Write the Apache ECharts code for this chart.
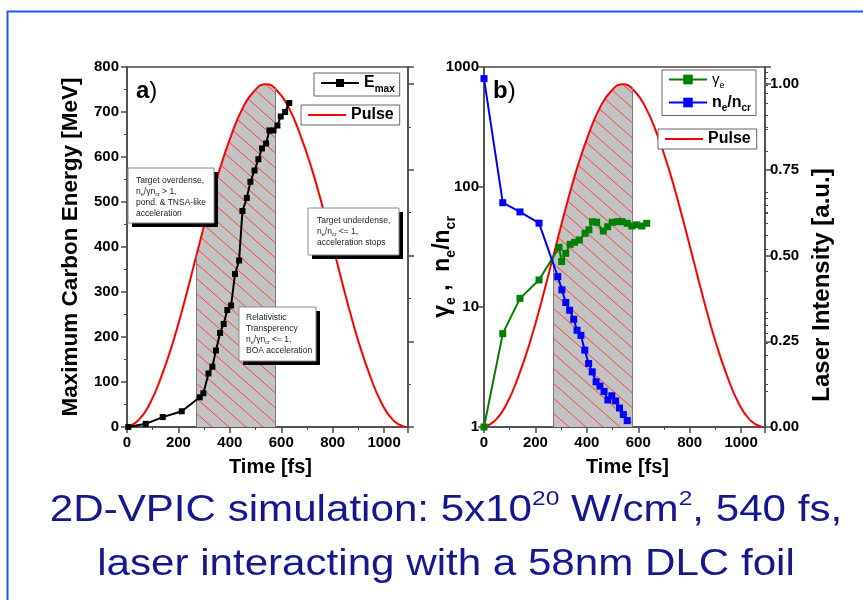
<!DOCTYPE html>
<html>
<head>
<meta charset="utf-8">
<script src="https://cdn.jsdelivr.net/npm/echarts@6/dist/echarts.min.js"></script>
<style>
  html, body { margin: 0; padding: 0; background: #fff; }
  #chart { width: 863px; height: 600px; }
</style>
</head>
<body>
<div id="chart"></div>
<script>
const FONT = '"Liberation Sans", Arial, sans-serif';

// a) maximum carbon energy [MeV] vs time [fs]
const emaxTime = [5, 73, 139, 213, 283, 297, 317, 332, 346, 362, 376, 390, 405, 420, 436,
  449, 466, 480, 496, 511, 525, 541, 554, 570, 585, 598, 615, 631];
const emaxValue = [0, 7, 22, 35, 66, 75, 119, 134, 170, 209, 229, 260, 270, 340, 370,
  480, 509, 545, 570, 595, 619, 630, 659, 659, 670, 690, 700, 720];

// b) gamma_e and n_e/n_cr vs time [fs]
const gammaTime = [0, 73, 140, 214, 292, 302, 318, 335, 352, 371, 393, 408, 422, 438,
  464, 481, 499, 519, 537, 557, 575, 594, 614, 633];
const gammaValue = [1, 6.0, 11.8, 16.8, 31.4, 23.9, 28, 33.3, 34.6, 36.2, 41.1, 44, 51.4, 50.8,
  43, 46.7, 50.8, 51.4, 51.4, 49.8, 47.3, 48.4, 47.3, 49.8];
const densityTime = [0, 73, 140, 214, 287, 303, 318, 333, 349, 362, 377, 392, 407, 421,
  436, 451, 467, 482, 497, 512, 527, 542, 557];
const densityValue = [800, 74, 62, 50, 17.9, 13.9, 10.9, 9.4, 7.9, 6.4, 5.8, 4.37, 3.38, 2.88,
  2.38, 2.19, 1.98, 1.68, 1.82, 1.65, 1.44, 1.27, 1.13];

// laser pulse, same curve in both panels (laser intensity, a.u.)
const pulseTime = [0, 45, 90, 135, 180, 225, 270, 315, 360, 405, 450, 495, 540,
  585, 630, 675, 720, 765, 810, 855, 900, 945, 990, 1035, 1080];
const pulseIntensity = [0, 0.02, 0.07, 0.15, 0.25, 0.37, 0.5, 0.63, 0.75, 0.85, 0.93, 0.98, 1.0,
  0.98, 0.93, 0.85, 0.75, 0.63, 0.5, 0.37, 0.25, 0.15, 0.07, 0.02, 0];

// hatched window under the pulse
const windowTime = [270, 315, 360, 405, 450, 495, 540, 578];
const windowIntensity = [0.5, 0.63, 0.75, 0.85, 0.93, 0.98, 1.0, 0.99];

const timeTicks = [0, 200, 400, 600, 800, 1000];
const logMinorTicks = [2, 3, 4, 5, 6, 7, 8, 9, 20, 30, 40, 50, 60, 70, 80, 90,
  200, 300, 400, 500, 600, 700, 800, 900];

const pair = (xs, ys) => xs.map((x, i) => [x, ys[i]]);

function hatchPattern() {
  const c = document.createElement('canvas');
  c.width = 17;
  c.height = 15;
  const ctx = c.getContext('2d');
  ctx.fillStyle = '#c3c3c3';
  ctx.fillRect(0, 0, 17, 15);
  ctx.strokeStyle = '#ff3b3b';
  ctx.lineWidth = 1;
  ctx.beginPath();
  ctx.moveTo(-17, -15);
  ctx.lineTo(34, 30);
  ctx.stroke();
  return c;
}
const pattern = hatchPattern();

const AXIS_COLOR = '#4a4a4a';
const axisLine = { show: true, lineStyle: { color: AXIS_COLOR, width: 1.5 } };
const majorTick = { show: true, length: 6, lineStyle: { color: AXIS_COLOR, width: 1.5 } };
const minorTick = { show: true, splitNumber: 2, length: 3, lineStyle: { color: AXIS_COLOR, width: 1 } };
const tickFont = { color: '#000', fontFamily: FONT, fontWeight: 'bold', fontSize: 15 };
const nameFont = { color: '#000', fontFamily: FONT, fontWeight: 'bold' };

function timeAxis(gridIndex) {
  return {
    type: 'value', gridIndex, min: 0, max: 1093, interval: 200,
    axisLine, axisTick: majorTick, minorTick, splitLine: { show: false },
    axisLabel: { ...tickFont, margin: 8, formatter: v => timeTicks.includes(v) ? String(v) : '' },
    name: 'Time [fs]', nameLocation: 'middle', nameGap: 30, nameMoveOverlap: false,
    nameTextStyle: { ...nameFont, fontSize: 20, padding: [0, 0, 0, 6] }
  };
}

function intensityAxis(gridIndex, withLabels) {
  const ax = {
    type: 'value', gridIndex, position: 'right', min: 0, max: 1.05, interval: 0.25,
    axisLine, axisTick: majorTick, minorTick, splitLine: { show: false },
    axisLabel: {
      show: withLabels, ...tickFont, margin: 5,
      formatter: v => v > 1.001 ? '' : v.toFixed(2)
    }
  };
  if (withLabels) {
    ax.name = 'Laser Intensity [a.u.]';
    ax.nameLocation = 'middle';
    ax.nameGap = 45;
    ax.nameMoveOverlap = false;
    // label sits lower than the axis middle in the original
    ax.nameTextStyle = { ...nameFont, fontSize: 24, padding: [0, 76, 0, 0] };
  }
  return ax;
}

function pulseSeries(xi, yi) {
  return {
    name: 'Pulse', type: 'line', xAxisIndex: xi, yAxisIndex: yi,
    data: pair(pulseTime, pulseIntensity), smooth: true, symbol: 'none',
    lineStyle: { color: '#ff0000', width: 2 }, itemStyle: { color: '#ff0000' }, z: 3
  };
}

function windowSeries(xi, yi) {
  const last = windowTime.length - 1;
  return {
    name: 'window' + xi, type: 'line', xAxisIndex: xi, yAxisIndex: yi,
    data: pair(windowTime, windowIntensity), smooth: true, symbol: 'none', silent: true,
    lineStyle: { width: 0 },
    areaStyle: { color: { image: pattern, repeat: 'repeat' }, opacity: 1 },
    z: 1,
    markLine: {
      silent: true, symbol: 'none', label: { show: false },
      lineStyle: { color: '#7a7a7a', width: 1, type: 'solid' },
      data: [
        [{ coord: [windowTime[0], 0] }, { coord: [windowTime[0], windowIntensity[0]] }],
        [{ coord: [windowTime[last], 0] }, { coord: [windowTime[last], windowIntensity[last]] }]
      ]
    }
  };
}

const legendRich = {
  b: { fontFamily: FONT, fontWeight: 'bold', fontSize: 16, lineHeight: 22, color: '#000' },
  s: { fontFamily: FONT, fontWeight: 'bold', fontSize: 10, lineHeight: 10, verticalAlign: 'bottom', color: '#000' },
  g: { fontFamily: FONT, fontSize: 15, lineHeight: 22, color: '#000' },
  gs: { fontFamily: FONT, fontSize: 9, lineHeight: 10, verticalAlign: 'bottom', color: '#000' }
};
const legendNames = {
  Emax: '{b|E}{s|max}',
  Pulse: '{b|Pulse}',
  gamma: '{g|γ}{gs|e}',
  density: '{b|n}{s|e}{b|/n}{s|cr}'
};
function legendBox(names, left, top, extra) {
  return Object.assign({
    data: names, left, top, orient: 'vertical', selectedMode: false,
    padding: [2, 5, 2, 6], itemWidth: 38, itemHeight: 10, itemGap: 6,
    backgroundColor: '#fff', borderColor: '#666', borderWidth: 1,
    formatter: n => legendNames[n], textStyle: { rich: legendRich }
  }, extra || {});
}
function pulseLegend(left, top) {
  return legendBox([{ name: 'Pulse', icon: 'rect' }], left, top, { itemHeight: 2, padding: [2, 6, 2, 7] });
}

const noteRich = {
  s: { fontFamily: FONT, fontSize: 5.5, lineHeight: 7, verticalAlign: 'bottom', fill: '#222' }
};
function noteBox(x, y, w, h, tx, ty, text) {
  return {
    type: 'group', x, y, z: 100,
    children: [
      { type: 'rect', z: 100, shape: { x: 4, y: 4, width: w, height: h }, style: { fill: '#000' } },
      { type: 'rect', z: 101, shape: { x: 0, y: 0, width: w, height: h }, style: { fill: '#fff', stroke: '#8a8a8a', lineWidth: 1 } },
      {
        type: 'text', z: 102, x: tx, y: ty,
        style: { text, fill: '#222', fontFamily: FONT, fontSize: 8.5, lineHeight: 11, rich: noteRich }
      }
    ]
  };
}

const option = {
  animation: false,
  backgroundColor: '#fff',
  grid: [
    { left: 127, top: 67, width: 281, height: 360, show: true, borderColor: AXIS_COLOR, borderWidth: 1.5 },
    { left: 484, top: 67, width: 281, height: 360, show: true, borderColor: AXIS_COLOR, borderWidth: 1.5 }
  ],
  xAxis: [timeAxis(0), timeAxis(1)],
  yAxis: [
    {
      type: 'value', gridIndex: 0, min: 0, max: 800, interval: 100,
      axisLine, axisTick: majorTick, minorTick, splitLine: { show: false },
      axisLabel: { ...tickFont, margin: 8 },
      name: 'Maximum Carbon Energy [MeV]', nameLocation: 'middle', nameGap: 45, nameMoveOverlap: false,
      nameTextStyle: { ...nameFont, fontSize: 22.5 }
    },
    intensityAxis(0, false),
    {
      type: 'log', gridIndex: 1, logBase: 10, min: 1, max: 1000,
      axisLine, axisTick: majorTick, minorTick: { show: false }, splitLine: { show: false },
      axisLabel: { ...tickFont, margin: 5, formatter: v => String(Math.round(v)) },
      name: '{b|γ}{s|e}{b| ,  n}{s|e}{b|/n}{s|cr}', nameLocation: 'middle', nameGap: 26, nameMoveOverlap: false,
      nameTextStyle: {
        ...nameFont, fontSize: 23, padding: [0, 40, 0, 0],
        rich: {
          b: { fontFamily: FONT, fontWeight: 'bold', fontSize: 23, lineHeight: 30, color: '#000' },
          s: { fontFamily: FONT, fontWeight: 'bold', fontSize: 14, lineHeight: 15, verticalAlign: 'bottom', color: '#000' }
        }
      }
    },
    {
      type: 'log', gridIndex: 1, logBase: 10, min: 1, max: 1000,
      axisLine: { show: false }, axisLabel: { show: false }, splitLine: { show: false },
      axisTick: { show: true, length: 3, customValues: logMinorTicks, lineStyle: { color: AXIS_COLOR, width: 1 } }
    },
    intensityAxis(1, true)
  ],
  legend: [
    legendBox(['Emax'], 314, 73),
    pulseLegend(301, 105),
    legendBox(['gamma', 'density'], 662, 70, { itemHeight: 12, itemGap: 4 }),
    pulseLegend(658, 129)
  ],
  series: [
    windowSeries(0, 1),
    pulseSeries(0, 1),
    {
      name: 'Emax', type: 'line', xAxisIndex: 0, yAxisIndex: 0,
      data: pair(emaxTime, emaxValue), symbol: 'rect', symbolSize: 6,
      lineStyle: { color: '#000', width: 2 }, itemStyle: { color: '#000' }, z: 5
    },
    windowSeries(1, 4),
    pulseSeries(1, 4),
    {
      name: 'gamma', type: 'line', xAxisIndex: 1, yAxisIndex: 2,
      data: pair(gammaTime, gammaValue), symbol: 'rect', symbolSize: 7,
      lineStyle: { color: '#008000', width: 2 }, itemStyle: { color: '#008000' }, z: 5
    },
    {
      name: 'density', type: 'line', xAxisIndex: 1, yAxisIndex: 2,
      data: pair(densityTime, densityValue), symbol: 'rect', symbolSize: 7,
      lineStyle: { color: '#0000ff', width: 2 }, itemStyle: { color: '#0000ff' }, z: 5
    }
  ],
  graphic: [
    { type: 'line', shape: { x1: 7, y1: 11.5, x2: 863, y2: 11.5 }, style: { stroke: '#1f55ff', lineWidth: 2 } },
    { type: 'line', shape: { x1: 7.5, y1: 11, x2: 7.5, y2: 600 }, style: { stroke: '#1f55ff', lineWidth: 2 } },
    {
      type: 'text', x: 136, y: 91, z: 100,
      style: {
        text: '{a|a}{p|)}', verticalAlign: 'middle',
        rich: {
          a: { fontFamily: FONT, fontWeight: 'bold', fontSize: 24, fill: '#000' },
          p: { fontFamily: FONT, fontSize: 24, fill: '#000' }
        }
      }
    },
    {
      type: 'text', x: 493, y: 91, z: 100,
      style: {
        text: '{a|b}{p|)}', verticalAlign: 'middle',
        rich: {
          a: { fontFamily: FONT, fontWeight: 'bold', fontSize: 24, fill: '#000' },
          p: { fontFamily: FONT, fontSize: 24, fill: '#000' }
        }
      }
    },
    noteBox(128, 168, 86, 55, 8, 7, 'Target overdense,\nn{s|e}/γn{s|cr} > 1,\npond. & TNSA-like\nacceleration'),
    noteBox(308, 208, 91, 47, 9, 7.5, 'Target underdense,\nn{s|e}/n{s|cr} <= 1,\nacceleration stops'),
    noteBox(239, 307, 77, 54, 7, 5.5, 'Relativistic\nTransperency\nn{s|e}/γn{s|cr} <= 1,\nBOA acceleration'),
    {
      type: 'text', x: 446, y: 511, scaleX: 1.17, z: 100,
      style: {
        text: '2D-VPIC simulation: 5x10{p|20} W/cm{p|2}, 540 fs,',
        align: 'center', verticalAlign: 'middle',
        fill: '#161690', fontFamily: FONT, fontSize: 36, lineHeight: 44,
        rich: { p: { fontFamily: FONT, fontSize: 21, lineHeight: 26, verticalAlign: 'top', fill: '#161690' } }
      }
    },
    {
      type: 'text', x: 446, y: 565, scaleX: 1.17, z: 100,
      style: {
        text: 'laser interacting with a 58nm DLC foil',
        align: 'center', verticalAlign: 'middle',
        fill: '#161690', fontFamily: FONT, fontSize: 36
      }
    }
  ]
};

const chart = echarts.init(document.getElementById('chart'));
chart.setOption(option);
</script>
</body>
</html>
